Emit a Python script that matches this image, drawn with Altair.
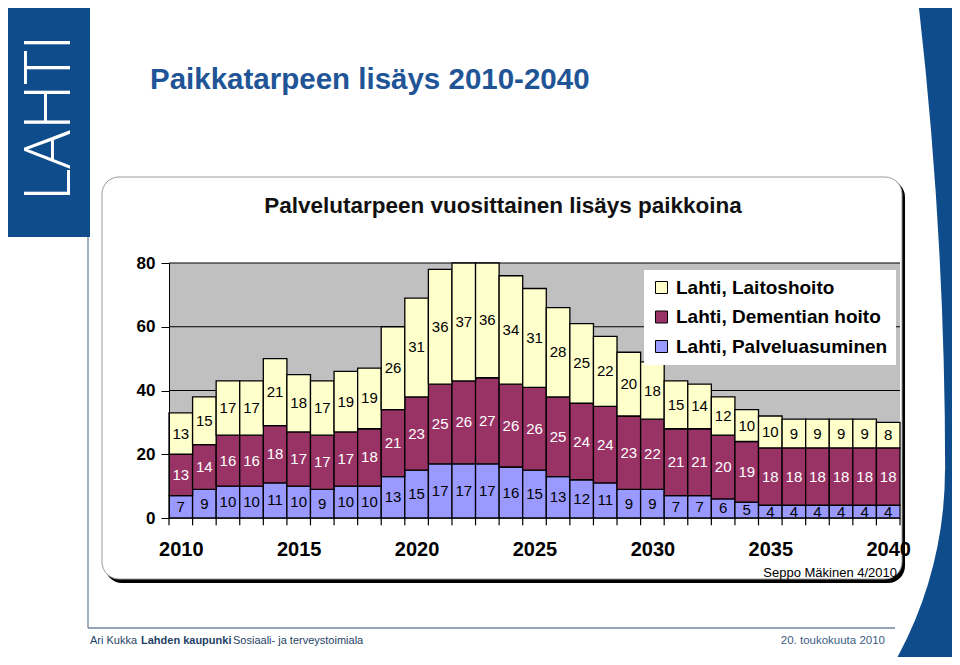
import altair as alt
import pandas as pd

# ---- data ----
years = list(range(2010, 2041))
palveluasuminen = [7, 9, 10, 10, 11, 10, 9, 10, 10, 13, 15, 17, 17, 17, 16, 15, 13, 12, 11, 9, 9, 7, 7, 6, 5, 4, 4, 4, 4, 4, 4]
dementian_hoito = [13, 14, 16, 16, 18, 17, 17, 17, 18, 21, 23, 25, 26, 27, 26, 26, 25, 24, 24, 23, 22, 21, 21, 20, 19, 18, 18, 18, 18, 18, 18]
laitoshoito = [13, 15, 17, 17, 21, 18, 17, 19, 19, 26, 31, 36, 37, 36, 34, 31, 28, 25, 22, 20, 18, 15, 14, 12, 10, 10, 9, 9, 9, 9, 8]
series_names = ["Lahti, Laitoshoito", "Lahti, Dementian hoito", "Lahti, Palveluasuminen"]
series_colors = ["#FFFFCC", "#993366", "#9999FF"]
y_ticks = [0, 20, 40, 60, 80]
x_label_years = [2010, 2015, 2020, 2025, 2030, 2035, 2040]

rows = []
for i, yr in enumerate(years):
    rows.append({"year": yr, "series": series_names[2], "value": palveluasuminen[i], "order": 0})
    rows.append({"year": yr, "series": series_names[1], "value": dementian_hoito[i], "order": 1})
    rows.append({"year": yr, "series": series_names[0], "value": laitoshoito[i], "order": 2})
df = pd.DataFrame(rows)
df["x0"] = df["year"] - 0.5
df["x1"] = df["year"] + 0.5

bounds = pd.DataFrame({"b": [y - 0.5 for y in years] + [years[-1] + 0.5]})
grid_df = pd.DataFrame({"v": y_ticks})
one = pd.DataFrame({"a": [0]})

W, H = 731, 255
FONT = "Liberation Sans"
BLUE = "#0E4C8B"

xscale = alt.Scale(domain=[years[0] - 0.5, years[-1] + 0.5], nice=False, zero=False)
yscale = alt.Scale(domain=[0, 80], nice=False)
xaxis = alt.Axis(values=x_label_years, format="d", title=None, ticks=False, domain=False, grid=False,
                 labelFontSize=20, labelFontWeight="bold", labelColor="black", labelFont=FONT,
                 labelPadding=21, zindex=1)
yaxis = alt.Axis(values=y_ticks, title=None, grid=False, tickColor="black", tickSize=8, tickWidth=1,
                 domainColor="black", domainWidth=1, labelFontSize=17, labelFontWeight="bold",
                 labelColor="black", labelFont=FONT, labelPadding=6, zindex=1)

# ---- decorations (pixel positions relative to plot origin) ----
swoosh_a = alt.Chart(one).mark_arc(theta=1.40, theta2=1.66, radius=4500, radius2=4104,
                                   color=BLUE).encode(x=alt.value(-3328), y=alt.value(207))
swoosh_b = alt.Chart(one).mark_arc(theta=1.5708, theta2=3.1416, radius=700, radius2=392,
                                   color=BLUE).encode(x=alt.value(384), y=alt.value(207))
frame_v = alt.Chart(one).mark_rule(color="#6F869E", strokeWidth=1.3).encode(
    x=alt.value(-81), y=alt.value(-26), y2=alt.value(365))
frame_h = alt.Chart(one).mark_rule(color="#6F869E", strokeWidth=1.3).encode(
    x=alt.value(-81), x2=alt.value(726), y=alt.value(365))
banner = alt.Chart(one).mark_rect(color=BLUE).encode(
    x=alt.value(-175), x2=alt.value(-79), y=alt.value(-270), y2=alt.value(-26))
logo = alt.Chart(one).mark_text(text="LAHTI", angle=270, font="Open Sans", fontWeight=300,
                                fontSize=64, color="white", align="center", baseline="middle").encode(
    x=alt.value(-118), y=alt.value(-145))
main_title = alt.Chart(one).mark_text(text="Paikkatarpeen lisäys 2010-2040", font=FONT, fontWeight="bold",
                                      fontSize=29.5, color="#1F5597", align="left", baseline="middle").encode(
    x=alt.value(-19), y=alt.value(-183))
box_shadow = alt.Chart(one).mark_rect(color="black", cornerRadius=17).encode(
    x=alt.value(-64), x2=alt.value(736), y=alt.value(-83), y2=alt.value(320))
box = alt.Chart(one).mark_rect(fill="white", stroke="#9A9A9A", strokeWidth=1, cornerRadius=17).encode(
    x=alt.value(-67), x2=alt.value(733), y=alt.value(-86), y2=alt.value(316))
chart_title = alt.Chart(one).mark_text(text="Palvelutarpeen vuosittainen lisäys paikkoina", font=FONT,
                                       fontSize=22.5, fontWeight="bold", color="#111111", align="center",
                                       baseline="middle").encode(x=alt.value(334), y=alt.value(-57))
plot_bg = alt.Chart(one).mark_rect(color="#C0C0C0").encode(
    x=alt.value(1), x2=alt.value(W), y=alt.value(0), y2=alt.value(H))
author = alt.Chart(one).mark_text(text="Seppo Mäkinen 4/2010", font=FONT, fontSize=13, color="black",
                                  align="right", baseline="middle").encode(x=alt.value(728), y=alt.value(310))
foot1 = alt.Chart(one).mark_text(text="Ari Kukka", font=FONT, fontSize=11, color="#1F3F66",
                                 align="left", baseline="middle").encode(x=alt.value(-79), y=alt.value(378))
foot2 = alt.Chart(one).mark_text(text="Lahden kaupunki", font=FONT, fontSize=11, fontWeight="bold",
                                 color="#1F3F66", align="left", baseline="middle").encode(x=alt.value(-28), y=alt.value(378))
foot3 = alt.Chart(one).mark_text(text="Sosiaali- ja terveystoimiala", font=FONT, fontSize=11, color="#1F3F66",
                                 align="left", baseline="middle").encode(x=alt.value(64), y=alt.value(378))
foot_date = alt.Chart(one).mark_text(text="20. toukokuuta 2010", font=FONT, fontSize=11.5, color="#3B5C85",
                                     align="right", baseline="middle").encode(x=alt.value(716), y=alt.value(378))

# ---- chart proper ----
grid = alt.Chart(grid_df).mark_rule(color="black", strokeWidth=1).encode(
    y=alt.Y("v:Q", scale=yscale, axis=yaxis), x=alt.value(0), x2=alt.value(W))

base = alt.Chart(df).transform_stack(
    stack="value", as_=["y0", "y1"], groupby=["year"], sort=[alt.SortField("order", order="ascending")]
).transform_calculate(ymid="(datum.y0 + datum.y1) / 2")

bars = base.mark_bar(stroke="black", strokeWidth=1.3).encode(
    x=alt.X("x0:Q", scale=xscale, axis=xaxis),
    x2="x1:Q",
    y=alt.Y("y0:Q", scale=yscale, axis=yaxis),
    y2="y1:Q",
    color=alt.Color("series:N", scale=alt.Scale(domain=series_names, range=series_colors),
                    legend=alt.Legend(title=None, orient="none", legendX=475, legendY=7, fillColor="white",
                                      padding=8, symbolType="square", symbolSize=144, symbolStrokeColor="black",
                                      symbolStrokeWidth=1, labelFontSize=19, labelFont=FONT,
                                      labelFontWeight="bold", labelColor="black", rowPadding=9.5,
                                      labelOffset=5, labelLimit=400, symbolOpacity=1)),
    order=alt.Order("order:Q"),
)

labels = base.mark_text(font=FONT, fontSize=15, align="center", baseline="middle").encode(
    x=alt.X("year:Q", scale=xscale, axis=xaxis),
    y=alt.Y("ymid:Q", scale=yscale, axis=yaxis),
    text=alt.Text("value:Q"),
    color=alt.condition("datum.order == 1", alt.value("white"), alt.value("black")),
)

# small tick marks below the zero line at each bar boundary
xticks = alt.Chart(bounds).mark_rule(color="black", strokeWidth=1.2).encode(
    x=alt.X("b:Q", scale=xscale, axis=xaxis),
    y=alt.datum(0, scale=yscale),
    y2=alt.datum(-2.3),
)

chart = alt.layer(
    swoosh_a, swoosh_b, frame_v, frame_h, banner, logo, main_title, box_shadow, box, chart_title,
    plot_bg, grid, bars, labels, xticks, author, foot1, foot2, foot3, foot_date
).properties(
    width=W, height=H,
    padding={"left": 161, "top": 255, "right": 52, "bottom": 139},
    autosize=alt.AutoSizeParams(type="none"),
).configure_view(stroke=None).configure(background="white", font=FONT)

chart.save("out.html", embed_options={"renderer": "svg", "actions": False})
